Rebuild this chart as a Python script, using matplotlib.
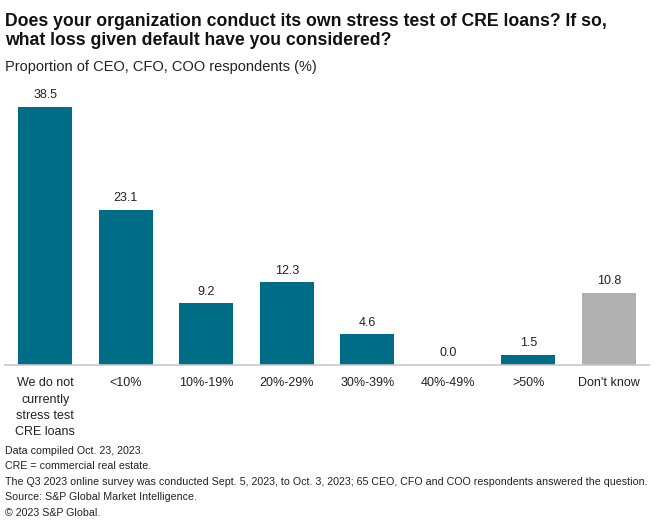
import matplotlib
matplotlib.use("Agg")
import matplotlib.pyplot as plt

categories = ["We do not\ncurrently\nstress test\nCRE loans", "<10%", "10%-19%", "20%-29%",
              "30%-39%", "40%-49%", ">50%", "Don't know"]
values = [38.5, 23.1, 9.2, 12.3, 4.6, 0.0, 1.5, 10.8]
value_labels = ["38.5", "23.1", "9.2", "12.3", "4.6", "0.0", "1.5", "10.8"]

title = "Does your organization conduct its own stress test of CRE loans? If so,\nwhat loss given default have you considered?"
subtitle = "Proportion of CEO, CFO, COO respondents (%)"
footnotes = [
    "Data compiled Oct. 23, 2023.",
    "CRE = commercial real estate.",
    "The Q3 2023 online survey was conducted Sept. 5, 2023, to Oct. 3, 2023; 65 CEO, CFO and COO respondents answered the question.",
    "Source: S&P Global Market Intelligence.",
    "\u00a9 2023 S&P Global.",
]

plt.rcParams['font.family'] = ['Liberation Sans', 'DejaVu Sans']

W, H = 660, 529
fig = plt.figure(figsize=(W / 100, H / 100), dpi=100)
ax = fig.add_axes([5 / W, (H - 365) / H, 644 / W, 265 / H])

teal = "#006d87"
grey = "#b0b0b0"
colors = [teal] * 7 + [grey]
x = range(len(categories))
ax.bar(x, values, width=0.67, color=colors)
ax.set_xlim(-0.5, len(categories) - 0.5)
ax.set_ylim(0, 39.5)
for i, (v, lab) in enumerate(zip(values, value_labels)):
    ax.annotate(lab, (i, v), xytext=(0, 4), textcoords="offset points",
                ha="center", va="bottom", fontsize=9, color="#222222")

ax.set_xticks(list(x))
ax.set_xticklabels(categories, fontsize=9, color="#222222", linespacing=1.45, va="top")
ax.tick_params(axis="x", length=0, pad=9)
ax.set_yticks([])
for s in ["top", "right", "left"]:
    ax.spines[s].set_visible(False)
ax.spines["bottom"].set_color("#c8c8c8")
ax.spines["bottom"].set_linewidth(1.2)

fig.text(5 / W, 1 - 13 / H, title, fontsize=12.7, fontweight="bold", va="top", ha="left",
         color="#111111", linespacing=1.15)
fig.text(5 / W, 1 - 60 / H, subtitle, fontsize=10.5, va="top", ha="left", color="#222222")

y0 = 446
for k, line in enumerate(footnotes):
    fig.text(5 / W, 1 - (y0 + k * 15.4) / H, line, fontsize=7.7, va="top", ha="left",
             color="#222222")

fig.savefig("out.png", dpi=100)
